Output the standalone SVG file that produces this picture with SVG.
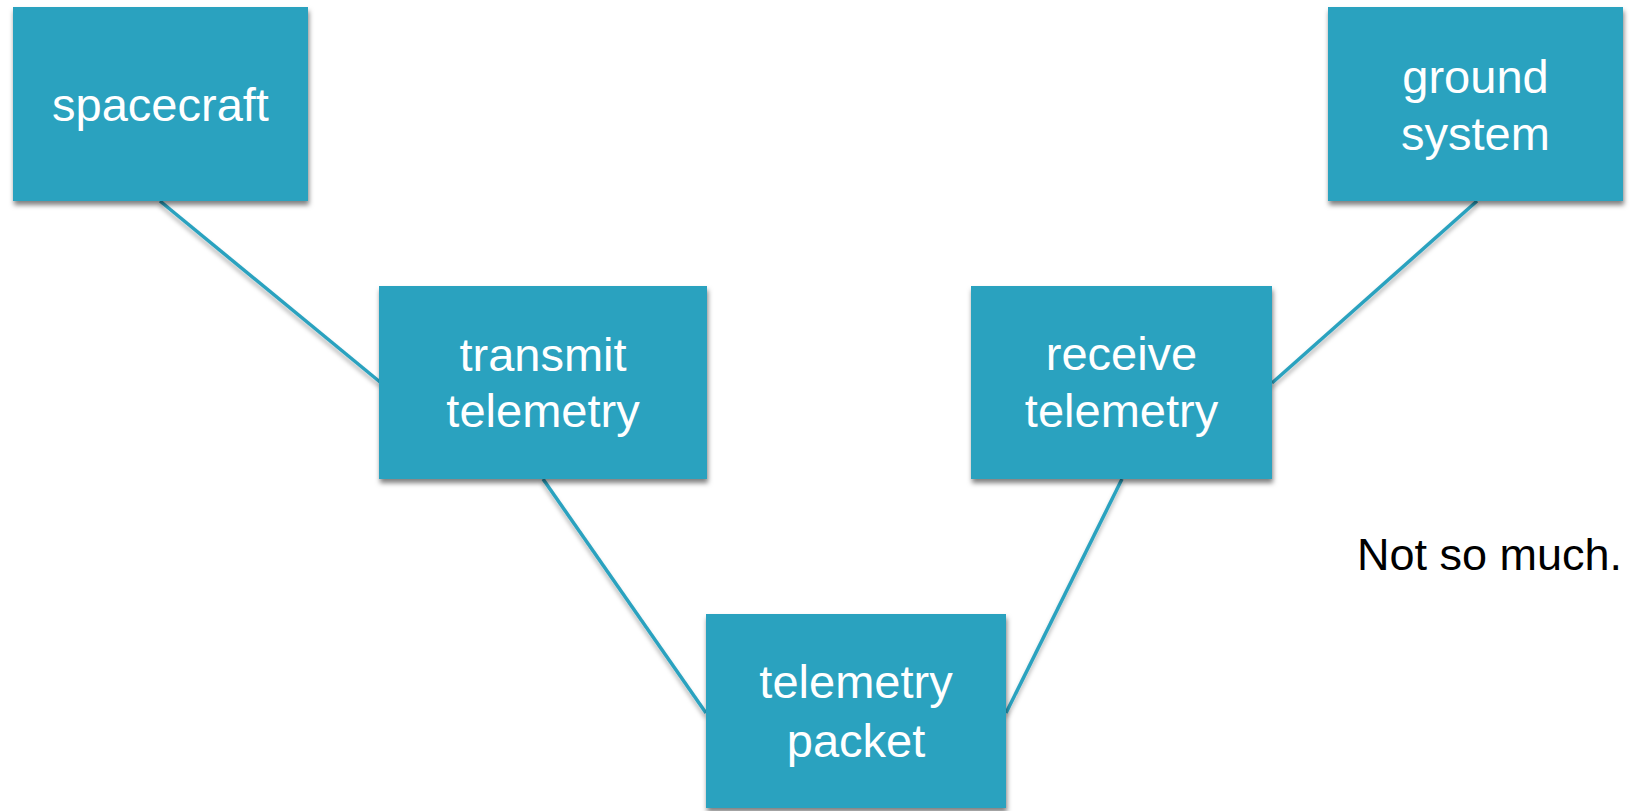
<svg xmlns="http://www.w3.org/2000/svg" width="1641" height="811" viewBox="0 0 1641 811">
<defs>
<filter id="sh" x="-10%" y="-10%" width="120%" height="125%">
<feDropShadow dx="1" dy="4" stdDeviation="2.5" flood-color="#000" flood-opacity="0.5"/>
</filter>
<filter id="lsh" x="-10%" y="-10%" width="120%" height="125%">
<feDropShadow dx="0" dy="4" stdDeviation="2" flood-color="#000" flood-opacity="0.3"/>
</filter>
<style>
.box{fill:#2ca2bf;filter:url(#sh)}
.lbl{font-family:"Liberation Sans",Arial,sans-serif;font-size:47px;fill:#fff;text-anchor:middle}
.con{stroke:#2ca2bf;stroke-width:3.5;fill:none;filter:url(#lsh)}
.note{font-family:"Liberation Sans",Arial,sans-serif;font-size:45px;fill:#000}
</style>
</defs>
<rect width="1641" height="811" fill="#fff"/>
<g id="connectors">
<line class="con" x1="160" y1="201" x2="380" y2="382"/>
<line class="con" x1="543" y1="479" x2="706" y2="713"/>
<line class="con" x1="1006" y1="713" x2="1122" y2="479"/>
<line class="con" x1="1272" y1="383" x2="1477" y2="201"/>
</g>
<g id="spacecraft">
<rect class="box" x="13" y="7" width="295" height="194"/>
<text class="lbl" x="160.5" y="121">spacecraft</text>
</g>
<g id="ground-system">
<rect class="box" x="1328" y="7" width="295" height="194"/>
<text class="lbl" x="1475.5" y="93">ground</text>
<text class="lbl" x="1475.5" y="150">system</text>
</g>
<g id="transmit-telemetry">
<rect class="box" x="379" y="286" width="328" height="193"/>
<text class="lbl" x="543" y="371">transmit</text>
<text class="lbl" x="543" y="427">telemetry</text>
</g>
<g id="receive-telemetry">
<rect class="box" x="971" y="286" width="301" height="193"/>
<text class="lbl" x="1121.5" y="370">receive</text>
<text class="lbl" x="1121.5" y="427">telemetry</text>
</g>
<g id="telemetry-packet">
<rect class="box" x="706" y="614" width="300" height="194"/>
<text class="lbl" x="856" y="698">telemetry</text>
<text class="lbl" x="856" y="757">packet</text>
</g>
<text class="note" x="1357" y="570">Not so much.</text>
</svg>
